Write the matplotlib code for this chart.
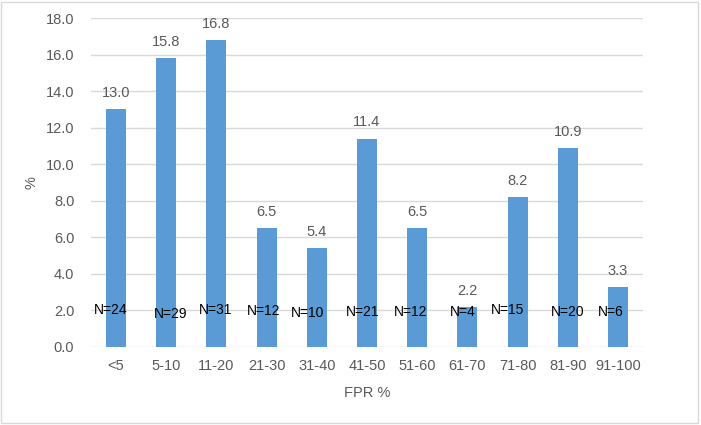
import numpy as np
import matplotlib.pyplot as plt
from matplotlib.patches import Rectangle

categories = ["<5", "5-10", "11-20", "21-30", "31-40", "41-50", "51-60", "61-70", "71-80", "81-90", "91-100"]
percent = [13.0, 15.8, 16.8, 6.5, 5.4, 11.4, 6.5, 2.2, 8.2, 10.9, 3.3]
counts = [24, 29, 31, 12, 10, 21, 12, 4, 15, 20, 6]

# where the N= labels sit (offset from bar centre, height in data units)
n_dx = [-0.1, 0.08, -0.02, -0.06, -0.18, -0.08, -0.14, -0.1, -0.2, 0.0, -0.14]
n_y = [2.0, 1.8, 2.0, 1.95, 1.85, 1.9, 1.9, 1.9, 2.0, 1.9, 1.9]

plt.rcParams['font.family'] = ['Liberation Sans', 'DejaVu Sans']
grey = '#595959'

fig = plt.figure(figsize=(7.01, 4.25), dpi=100)
ax = fig.add_axes([91 / 701, 1 - 347 / 425, 552 / 701, 329 / 425])

x = np.arange(len(categories))
ax.bar(x, percent, width=0.4, color='#5b9bd5', zorder=2)

for xi, v in zip(x, percent):
    ax.text(xi, v + 0.5, f"{v:.1f}", ha='center', va='bottom', fontsize=10.5, color=grey)
for xi, n, dx, yy in zip(x, counts, n_dx, n_y):
    ax.text(xi + dx, yy, f"N={n}", ha='center', va='center', fontsize=10, color='black', zorder=3)

ax.set_xlim(-0.5, len(categories) - 0.5)
ax.set_ylim(0, 18)
ax.set_yticks(np.arange(0, 18.1, 2))
ax.set_yticklabels([f"{t:.1f}" for t in np.arange(0, 18.1, 2)])
ax.set_xticks(x)
ax.set_xticklabels(categories)
ax.tick_params(length=0, labelsize=10.5, colors=grey)
ax.tick_params(axis='x', pad=9)
ax.tick_params(axis='y', pad=12)
ax.grid(axis='y', color='#d9d9d9', linewidth=1, zorder=0)
for s in ax.spines.values():
    s.set_visible(False)

ax.set_xlabel("FPR %", fontsize=10.5, color=grey, labelpad=9)
ax.set_ylabel("%", fontsize=10.5, color=grey, labelpad=5)

fig.patches.append(Rectangle((0.002, 0.004), 0.994, 0.992, transform=fig.transFigure,
                             fill=False, edgecolor='#d9d9d9', linewidth=1))

fig.savefig("out.png", dpi=100)
